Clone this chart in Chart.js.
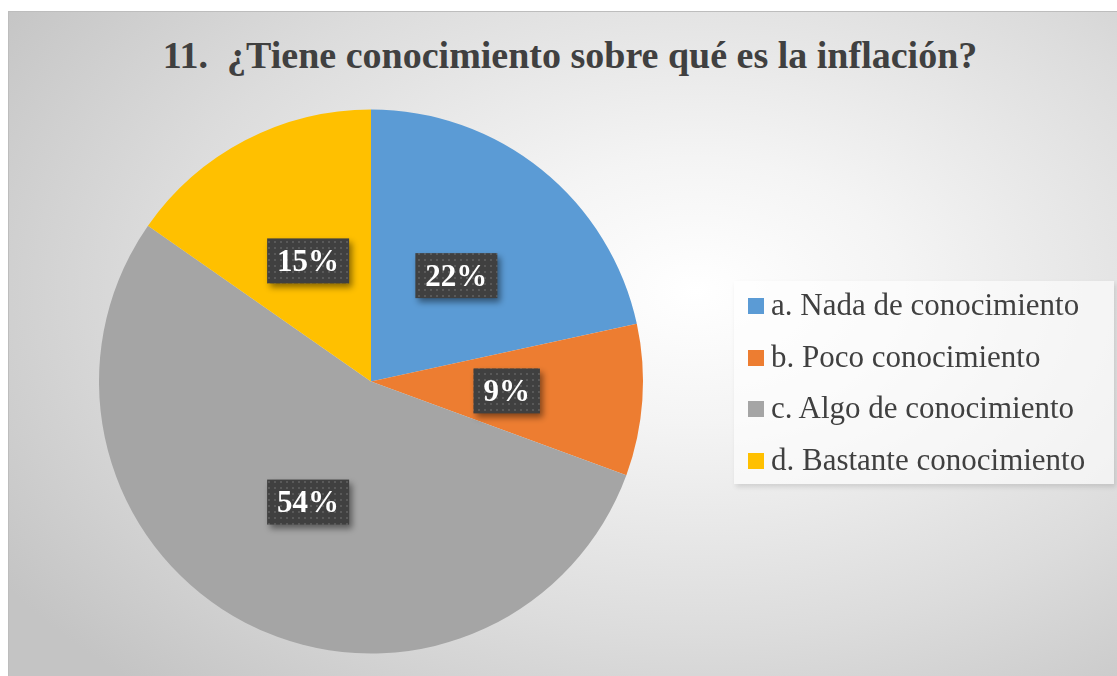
<!DOCTYPE html>
<html>
<head>
<meta charset="utf-8">
<script src="https://cdn.jsdelivr.net/npm/chart.js@4.4.0/dist/chart.umd.min.js"></script>
<style>
    body { margin: 0; background: #fff; width: 1117px; height: 676px; overflow: hidden; }
    #frame {
        position: absolute; left: 8px; top: 11px; width: 1109px; height: 665px;
        border-top: 1px solid #bdbdbd; border-left: 1px solid #bdbdbd; box-sizing: border-box;
        background: radial-gradient(ellipse 75% 80% at 62% 42%, #ffffff 0%, #f4f4f4 25%, #dcdcdc 65%, #c4c4c4 100%);
    }
    #title {
        position: absolute; left: 0; top: 21px; width: 1122px; text-align: center;
        font: bold 38px "Liberation Serif", "Times New Roman", serif; color: #404040;
        white-space: pre;
    }
    #chartWrap { position: absolute; left: 0; top: 0; width: 1109px; height: 665px; }
    #legend {
        position: absolute; left: 725px; top: 269px; width: 380px; height: 203px;
        background: rgba(255, 255, 255, 0.6);
        box-shadow: 2px 3px 5px rgba(0, 0, 0, 0.12);
        box-sizing: border-box; padding-top: 0;
    }
    .item {
        height: 51.7px; display: flex; align-items: center; position: relative; top: -2px;
        font: 31px "Liberation Serif", "Times New Roman", serif; color: #404040;
    }
    .sw { width: 16px; height: 16px; margin-left: 14px; margin-right: 7px; flex: none; position: relative; top: 1px; }
</style>
</head>
<body>
<div id="frame">
    <div id="title"></div>
    <div id="chartWrap"><canvas id="pieChart"></canvas></div>
    <div id="legend"></div>
</div>
<script>
const chartTitle = '11.  ¿Tiene conocimiento sobre qué es la inflación?';
const categories = ['a. Nada de conocimiento', 'b. Poco conocimiento', 'c. Algo de conocimiento', 'd. Bastante conocimiento'];
const shares = [21.6, 9.0, 54.1, 15.3];
const sliceColors = ['#5b9bd5', '#ed7d31', '#a5a5a5', '#ffc000'];

document.getElementById('title').textContent = chartTitle;

// html legend built from the arrays
const legendEl = document.getElementById('legend');
categories.forEach(function (name, i) {
    const row = document.createElement('div');
    row.className = 'item';
    row.innerHTML = '<span class="sw" style="background:' + sliceColors[i] + '"></span><span></span>';
    row.lastChild.textContent = name;
    legendEl.appendChild(row);
});

// dotted dark fill for the data label boxes
function makePattern(ctx) {
    const tile = document.createElement('canvas');
    tile.width = 6;
    tile.height = 6;
    const t = tile.getContext('2d');
    t.fillStyle = '#404040';
    t.fillRect(0, 0, 6, 6);
    t.fillStyle = '#595959';
    t.fillRect(1, 1, 2, 2);
    return ctx.createPattern(tile, 'repeat');
}

const boxLabels = {
    id: 'boxLabels',
    afterDatasetsDraw(chart) {
        const ctx = chart.ctx;
        const meta = chart.getDatasetMeta(0);
        const pattern = makePattern(ctx);
        ctx.save();
        ctx.font = 'bold 31px "Liberation Serif", "Times New Roman", serif';
        ctx.textAlign = 'center';
        ctx.textBaseline = 'middle';
        meta.data.forEach(function (arc, i) {
            const pos = arc.tooltipPosition();
            const text = Math.round(shares[i]) + '%';
            const w = ctx.measureText(text).width + 20;
            const h = 45;
            ctx.save();
            ctx.shadowColor = 'rgba(0,0,0,0.45)';
            ctx.shadowBlur = 6;
            ctx.shadowOffsetX = 3;
            ctx.shadowOffsetY = 4;
            ctx.fillStyle = pattern;
            ctx.fillRect(pos.x - w / 2, pos.y - h / 2, w, h);
            ctx.restore();
            ctx.fillStyle = '#ffffff';
            ctx.fillText(text, pos.x, pos.y + 2);
        });
        ctx.restore();
    }
};

new Chart(document.getElementById('pieChart'), {
    type: 'pie',
    data: {
        labels: categories,
        datasets: [{
            data: shares,
            backgroundColor: sliceColors,
            borderWidth: 0
        }]
    },
    options: {
        responsive: true,
        maintainAspectRatio: false,
        animation: false,
        layout: { padding: { left: 90, top: 97, right: 475, bottom: 23 } },
        plugins: {
            legend: { display: false },
            tooltip: { enabled: false }
        }
    },
    plugins: [boxLabels]
});
</script>
</body>
</html>
